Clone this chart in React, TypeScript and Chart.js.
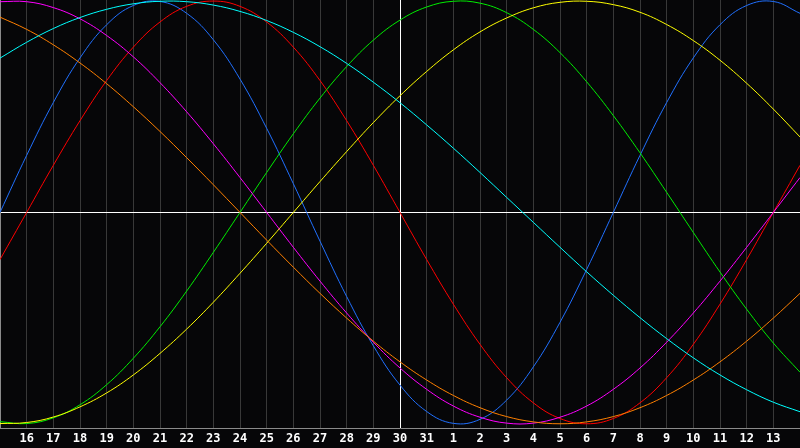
import React, { useEffect, useRef } from "react";
import { Chart, registerables } from "chart.js";

Chart.register(...registerables);

const dayLabels = ["15","16","17","18","19","20","21","22","23","24","25","26","27","28","29","30","31","1","2","3","4","5","6","7","8","9","10","11","12","13","14"];

const physical = [0,0.270,0.520,0.731,0.888,0.979,0.998,0.942,0.817,0.631,0.398,0.136,-0.136,-0.398,-0.631,-0.817,-0.942,-0.998,-0.979,-0.888,-0.731,-0.520,-0.270,0,0.270,0.520,0.731,0.888,0.979,0.998,0.942];
const emotional = [-0.223,0,0.223,0.434,0.624,0.782,0.901,0.975,1,0.975,0.901,0.782,0.624,0.434,0.223,0,-0.223,-0.434,-0.624,-0.782,-0.901,-0.975,-1,-0.975,-0.901,-0.782,-0.624,-0.434,-0.223,0,0.223];
const intellectual = [-0.990,-0.999,-0.972,-0.910,-0.815,-0.690,-0.541,-0.372,-0.189,0,0.189,0.372,0.541,0.690,0.815,0.910,0.972,0.999,0.990,0.945,0.866,0.756,0.618,0.458,0.282,0.095,-0.095,-0.282,-0.458,-0.618,-0.756];
const aesthetic = [-0.999,-0.994,-0.968,-0.920,-0.854,-0.769,-0.667,-0.552,-0.425,-0.288,-0.146,0,0.146,0.288,0.425,0.552,0.667,0.769,0.854,0.920,0.968,0.994,0.999,0.983,0.947,0.889,0.813,0.720,0.611,0.489,0.357];
const intuitive = [0.997,0.997,0.969,0.916,0.837,0.736,0.614,0.476,0.325,0.165,0,-0.165,-0.325,-0.476,-0.614,-0.736,-0.837,-0.916,-0.969,-0.997,-0.997,-0.969,-0.916,-0.837,-0.736,-0.614,-0.476,-0.325,-0.165,0,0.165];
const awareness = [0.924,0.866,0.793,0.707,0.609,0.5,0.383,0.259,0.131,0,-0.131,-0.259,-0.383,-0.5,-0.609,-0.707,-0.793,-0.866,-0.924,-0.966,-0.991,-1,-0.991,-0.966,-0.924,-0.866,-0.793,-0.707,-0.609,-0.5,-0.383];
const spiritual = [0.730,0.805,0.870,0.922,0.961,0.987,0.999,0.997,0.981,0.951,0.908,0.852,0.784,0.705,0.616,0.519,0.414,0.304,0.189,0.071,-0.047,-0.165,-0.281,-0.392,-0.498,-0.597,-0.688,-0.769,-0.839,-0.898,-0.943];

const seriesColors = ["#00ffff", "#ff8000", "#ff00ff", "#ffff00", "#00ee00", "#ff0000", "#2070ff"];
const seriesValues = [spiritual, awareness, intuitive, aesthetic, intellectual, emotional, physical];
const todayIndex = 15;

const bgPlugin = {
  id: "bg",
  beforeDraw(chart: any) {
    const { ctx, width, height } = chart;
    ctx.save();
    ctx.fillStyle = "#060608";
    ctx.fillRect(0, 0, width, height);
    ctx.restore();
  },
};

export default function App() {
  const ref = useRef<HTMLCanvasElement>(null);
  useEffect(() => {
    document.body.style.margin = "0";
    document.body.style.background = "#060608";
    const chart = new Chart(ref.current!, {
      type: "line",
      data: {
        datasets: seriesValues.map((vals, k) => ({
          data: vals.map((v, i) => ({ x: i, y: v })),
          borderColor: seriesColors[k],
          borderWidth: 1,
          pointRadius: 0,
          tension: 0.4,
          fill: false,
        })),
      },
      options: {
        animation: false,
        responsive: false,
        devicePixelRatio: 1,
        layout: { padding: 0 },
        plugins: { legend: { display: false }, tooltip: { enabled: false } },
        scales: {
          x: {
            type: "linear",
            min: 0,
            max: 30,
            afterFit: (s: any) => {
              s.height = 20;
              s.paddingLeft = 0;
              s.paddingRight = 0;
            },
            afterBuildTicks: (s: any) => {
              s.ticks = dayLabels.map((_, i) => ({ value: i }));
            },
            ticks: {
              autoSkip: false,
              maxRotation: 0,
              padding: 4,
              color: "#ffffff",
              font: { family: "DejaVu Sans Mono", size: 12, weight: "bold" },
              callback: (v: any) => (v === 0 || v === 30 ? "" : dayLabels[v]),
            },
            grid: {
              drawTicks: false,
              color: (c: any) => (c.tick && c.tick.value === todayIndex ? "#ffffff" : "#383838"),
              lineWidth: 1,
            },
            border: { color: "#8a8a8a", width: 1 },
          },
          y: {
            min: -1.02,
            max: 1.005,
            afterFit: (s: any) => {
              s.width = 0;
              s.paddingTop = 0;
              s.paddingBottom = 0;
            },
            afterBuildTicks: (s: any) => { s.ticks = [{ value: 0 }]; },
            ticks: { display: false },
            grid: { drawTicks: false, color: "#ffffff", lineWidth: 1 },
            border: { color: "#8a8a8a", width: 1 },
          },
        },
      },
      plugins: [bgPlugin],
    });
    return () => chart.destroy();
  }, []);
  return <canvas ref={ref} width={800} height={448} style={{ display: "block" }} />;
}
